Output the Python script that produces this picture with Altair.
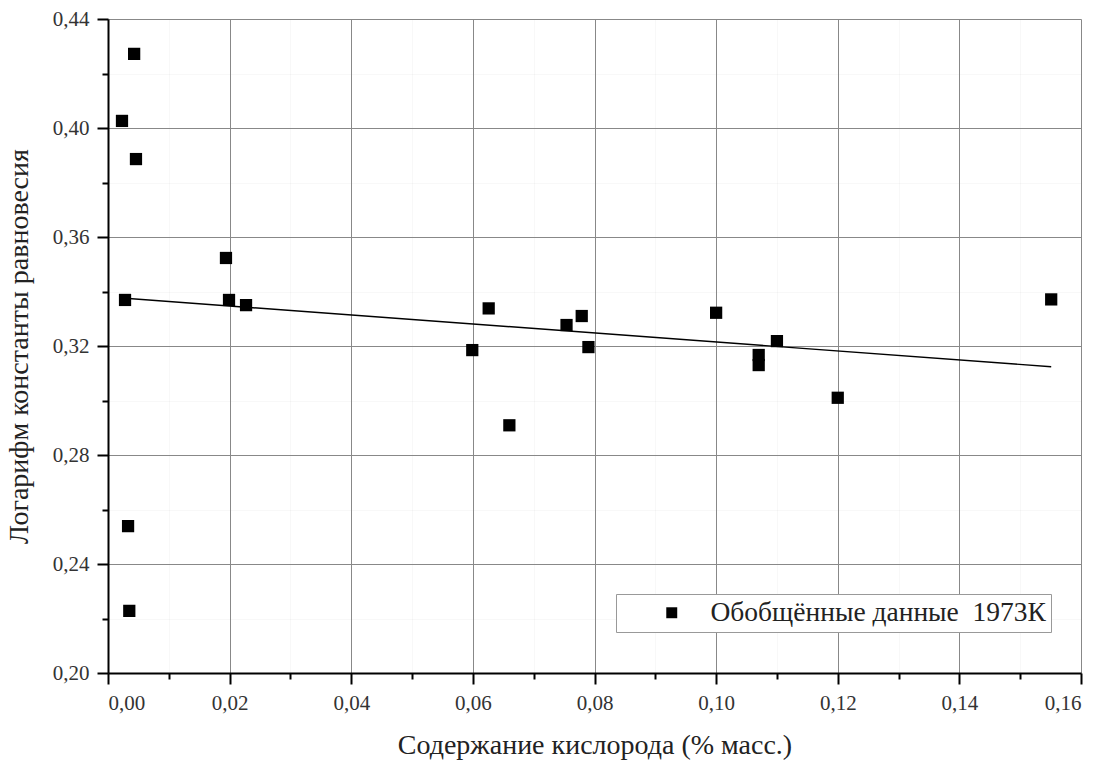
import altair as alt
import pandas as pd

# Data
oxygen = [0.0043, 0.0023, 0.0046, 0.0194, 0.0028, 0.0199, 0.0227, 0.0033, 0.0035,
          0.0599, 0.0626, 0.0660, 0.0754, 0.0779, 0.0790, 0.1000, 0.1070, 0.1070,
          0.1100, 0.1200, 0.1551]
log_k = [0.4272, 0.4026, 0.3886, 0.3523, 0.3369, 0.3369, 0.3350, 0.2539, 0.2228,
         0.3185, 0.3338, 0.2909, 0.3277, 0.3310, 0.3196, 0.3322, 0.3167, 0.3130,
         0.3218, 0.3010, 0.3371]
fit_x = [0.0023, 0.1551]
fit_y = [0.3376, 0.3124]
series_label = "Обобщённые данные\u00a0\u00a01973К"

x_values = [round(i * 0.01, 2) for i in range(0, 17)]
y_values = [round(0.20 + i * 0.02, 2) for i in range(0, 13)]

points = pd.DataFrame({"x": oxygen, "y": log_k, "series": [series_label] * len(oxygen)})
fit = pd.DataFrame({"x": fit_x, "y": fit_y})

FONT = "Liberation Serif"

x_axis = alt.Axis(
    values=x_values,
    title="Содержание кислорода (% масс.)",
    labelExpr="round(datum.value*100) % 2 == 0 ? replace(format(datum.value, '.2f'), '.', ',') : ''",
    tickSize={"condition": {"test": "round(datum.value*100) % 2 == 0", "value": 11}, "value": 6},
    gridOpacity={"condition": {"test": "round(datum.value*100) % 2 == 0", "value": 1}, "value": 0.06},
    labelPadding=8,
    titlePadding=18,
)
y_axis = alt.Axis(
    values=y_values,
    title="Логарифм константы равновесия",
    labelExpr="round(datum.value*100) % 4 == 0 ? replace(format(datum.value, '.2f'), '.', ',') : ''",
    tickSize={"condition": {"test": "round(datum.value*100) % 4 == 0", "value": 11}, "value": 6},
    gridOpacity={"condition": {"test": "round(datum.value*100) % 4 == 0", "value": 1}, "value": 0.06},
    labelPadding=8,
    titlePadding=19,
)

xs = alt.Scale(domain=[0, 0.16], nice=False, zero=False)
ys = alt.Scale(domain=[0.20, 0.44], nice=False, zero=False)

pts = alt.Chart(points).mark_point(shape="square", filled=True, size=150, opacity=1).encode(
    x=alt.X("x:Q", scale=xs, axis=x_axis),
    y=alt.Y("y:Q", scale=ys, axis=y_axis),
    color=alt.Color(
        "series:N",
        scale=alt.Scale(domain=[series_label], range=["black"]),
        legend=alt.Legend(
            title=None,
            orient="none",
            legendX=508,
            legendY=575,
            strokeColor="#999",
            fillColor="white",
            padding=5,
            symbolOffset=37,
            labelOffset=25,
            symbolSize=120,
            symbolType="square",
            labelFont=FONT,
            labelFontSize=27.5,
            labelColor="#222",
            labelLimit=600,
        ),
    ),
)

line = alt.Chart(fit).mark_line(color="black", strokeWidth=1.4).encode(
    x=alt.X("x:Q", scale=xs),
    y=alt.Y("y:Q", scale=ys),
)

chart = (
    alt.layer(line, pts)
    .properties(width=973, height=654, padding={"left": 5, "top": 8, "right": 5, "bottom": 5})
    .configure(background="white")
    .configure_view(stroke=None)
    .configure_axis(
        labelFont=FONT,
        labelFontSize=21,
        labelColor="#333",
        titleFont=FONT,
        titleFontSize=28,
        titleFontWeight="normal",
        titleColor="#222",
        domainColor="black",
        domainWidth=2,
        tickColor="black",
        tickWidth=2,
        gridColor="#888",
        gridWidth=1,
    )
)

chart.save("out.html", embed_options={"renderer": "svg", "actions": False})
